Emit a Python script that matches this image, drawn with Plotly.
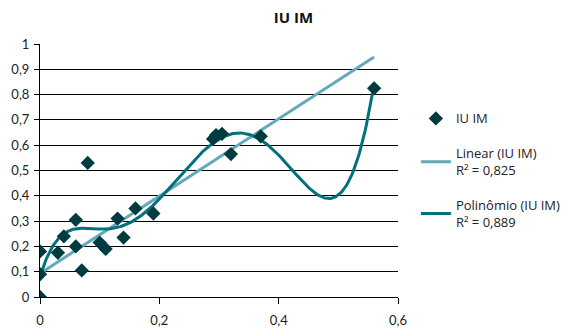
import numpy as np
import plotly.graph_objects as go

# IU versus IM observations
iu = [0, 0, 0, 0.03, 0.04, 0.06, 0.06, 0.07, 0.08, 0.10, 0.11, 0.13, 0.14,
      0.16, 0.19, 0.29, 0.295, 0.305, 0.32, 0.37, 0.56]
im = [0, 0.09, 0.18, 0.175, 0.24, 0.305, 0.20, 0.105, 0.53, 0.215, 0.19, 0.31,
      0.235, 0.35, 0.33, 0.625, 0.64, 0.645, 0.565, 0.635, 0.825]

# Trendline equations (highest power first)
linear_coef = [1.528, 0.093]
poly_coef = [-699.685, 2077.808, -1876.542, 700.938, -111.416, 7.688, 0.0808]

x_ticks = [0, 0.2, 0.4, 0.6]
y_ticks = [round(0.1 * i, 1) for i in range(11)]

series_name = "IU IM"
linear_name = "Linear (IU IM)<br>R² = 0,825"
poly_name = "Polinômio (IU IM)<br>R² = 0,889"

MARKER = "#003B40"
LINEAR = "#62A9BB"
POLY = "#00717A"
FONT = "Lato, 'Open Sans', sans-serif"
LEGEND_FONT = "'Open Sans', Lato, sans-serif"

xs = np.linspace(min(iu), max(iu), 300)
lin = np.polyval(linear_coef, xs)
poly = np.polyval(poly_coef, xs)

fig = go.Figure()
fig.add_trace(go.Scatter(x=xs, y=lin, mode="lines", name=linear_name,
                         line=dict(color=LINEAR, width=3), legendrank=2,
                         legendgroup="lin"))
fig.add_trace(go.Scatter(x=xs, y=poly, mode="lines", name=poly_name,
                         line=dict(color=POLY, width=3), legendrank=3,
                         legendgroup="poly"))
fig.add_trace(go.Scatter(x=iu, y=im, mode="markers", name=series_name,
                         marker=dict(symbol="diamond", size=11, color=MARKER),
                         legendrank=1, legendgroup="pts"))

fig.update_layout(
    width=587, height=329,
    margin=dict(l=39.5, r=189, t=44, b=32),
    paper_bgcolor="white", plot_bgcolor="white",
    separators=", ",
    font=dict(family=FONT, size=13, color="#222222"),
    title=dict(text="<b>IU IM</b>", x=0.5, xanchor="center", y=0.945,
               yanchor="middle",
               font=dict(family=LEGEND_FONT, size=15, color="#111111")),
    showlegend=True,
    legend=dict(x=1.05, xanchor="left", y=0.765, yanchor="top",
                font=dict(family=LEGEND_FONT, size=13), tracegroupgap=15,
                bgcolor="rgba(0,0,0,0)"),
    xaxis=dict(range=[0, 0.6], tickvals=x_ticks, showgrid=False,
               showline=True, linecolor="black", linewidth=1,
               ticks="outside", ticklen=6, tickcolor="black",
               ticklabelstandoff=5, automargin=False,
               zeroline=False, fixedrange=True),
    yaxis=dict(range=[0, 1], tickvals=y_ticks, showgrid=True,
               gridcolor="black", gridwidth=1, automargin=False,
               showline=True, linecolor="black", linewidth=1,
               ticks="outside", ticklen=5, tickcolor="black",
               ticklabelstandoff=2,
               zeroline=False, fixedrange=True),
)

fig.write_html("out.html")
